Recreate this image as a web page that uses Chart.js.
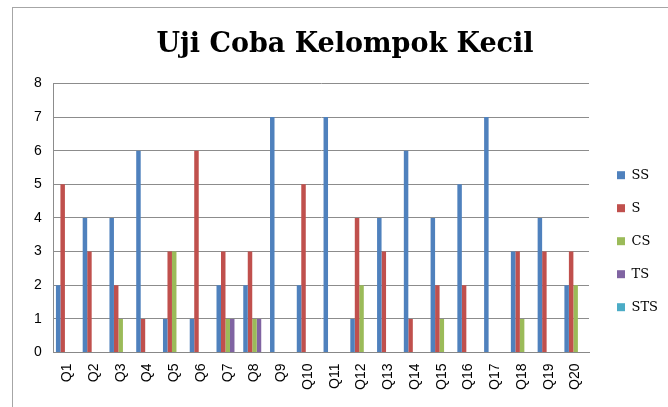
<!DOCTYPE html>
<html>
<head>
<meta charset="utf-8">
<script src="https://cdn.jsdelivr.net/npm/chart.js@4/dist/chart.umd.min.js"></script>
<style>
  body { margin: 0; background: #fff; }
  #wrap { width: 668px; height: 407px; }
</style>
</head>
<body>
<div id="wrap"><canvas id="chart"></canvas></div>
<script>
/* data */
const questions = ['Q1','Q2','Q3','Q4','Q5','Q6','Q7','Q8','Q9','Q10',
                   'Q11','Q12','Q13','Q14','Q15','Q16','Q17','Q18','Q19','Q20'];
const ss  = [2,4,4,6,1,1,2,2,7,2,7,1,4,6,4,5,7,3,4,2];
const s   = [5,3,2,1,3,6,3,3,0,5,0,4,3,1,2,2,0,3,3,3];
const cs  = [0,0,1,0,3,0,1,1,0,0,0,2,0,0,1,0,0,1,0,2];
const ts  = [0,0,0,0,0,0,1,1,0,0,0,0,0,0,0,0,0,0,0,0];
const sts = [0,0,0,0,0,0,0,0,0,0,0,0,0,0,0,0,0,0,0,0];
const yTicks = [0,1,2,3,4,5,6,7,8];

/* outer frame like the office chart box */
const frame = {
    id: 'frame',
    afterDraw(chart) {
        const ctx = chart.ctx;
        ctx.save();
        ctx.strokeStyle = '#a6a6a6';
        ctx.lineWidth = 1;
        ctx.strokeRect(12.5, 7.5, 700, 500);
        ctx.restore();
    }
};

/* empty box between plot and legend, keeps the legend where it was */
const spacer = {
    id: 'spacer',
    beforeInit(chart) {
        const box = {
            position: 'right',
            weight: 0,
            fullSize: false,
            options: {},
            width: 0, height: 0, left: 0, top: 0, right: 0, bottom: 0,
            update(maxWidth, maxHeight) {
                this.width = 8;
                this.height = maxHeight;
            },
            isHorizontal() { return false; },
            draw() {}
        };
        Chart.layouts.addBox(chart, box);
    }
};

function ds(label, data, color) {
    return {
        label: label,
        data: data,
        backgroundColor: color,
        borderWidth: 0,
        barPercentage: 1,
        categoryPercentage: 0.84
    };
}

const ctx = document.getElementById('chart').getContext('2d');
new Chart(ctx, {
    type: 'bar',
    data: {
        labels: questions,
        datasets: [
            ds('SS', ss, '#4f81bd'),
            ds('S', s, '#c0504d'),
            ds('CS', cs, '#9bbb59'),
            ds('TS', ts, '#8064a2'),
            ds('STS', sts, '#4bacc6')
        ]
    },
    options: {
        responsive: true,
        maintainAspectRatio: false,
        animation: false,
        layout: { padding: { left: 22, right: 0, top: 29, bottom: 14 } },
        plugins: {
            title: {
                display: true,
                text: 'Uji Coba Kelompok Kecil',
                color: '#000',
                font: { family: 'DejaVu Serif', size: 27, weight: 'bold' },
                padding: { top: 0, bottom: 22 }
            },
            legend: {
                position: 'right',
                title: { display: true, text: ' ', padding: { top: 46, bottom: 0 } },
                labels: {
                    boxWidth: 8,
                    boxHeight: 8,
                    padding: 20,
                    color: '#000',
                    font: { family: 'DejaVu Serif', size: 13 }
                }
            },
            tooltip: { enabled: false }
        },
        scales: {
            x: {
                grid: { display: false },
                border: { color: '#888' },
                ticks: {
                    color: '#000',
                    maxRotation: 90,
                    minRotation: 90,
                    autoSkip: false,
                    font: { family: 'Liberation Sans', size: 14 }
                }
            },
            y: {
                min: 0,
                max: 8,
                afterBuildTicks(axis) {
                    axis.ticks = yTicks.map(v => ({ value: v }));
                },
                grid: { color: '#8c8c8c', drawTicks: false },
                border: { color: '#8c8c8c' },
                ticks: {
                    color: '#000',
                    padding: 12,
                    font: { family: 'Liberation Sans', size: 14 }
                }
            }
        }
    },
    plugins: [frame, spacer]
});
</script>
</body>
</html>
